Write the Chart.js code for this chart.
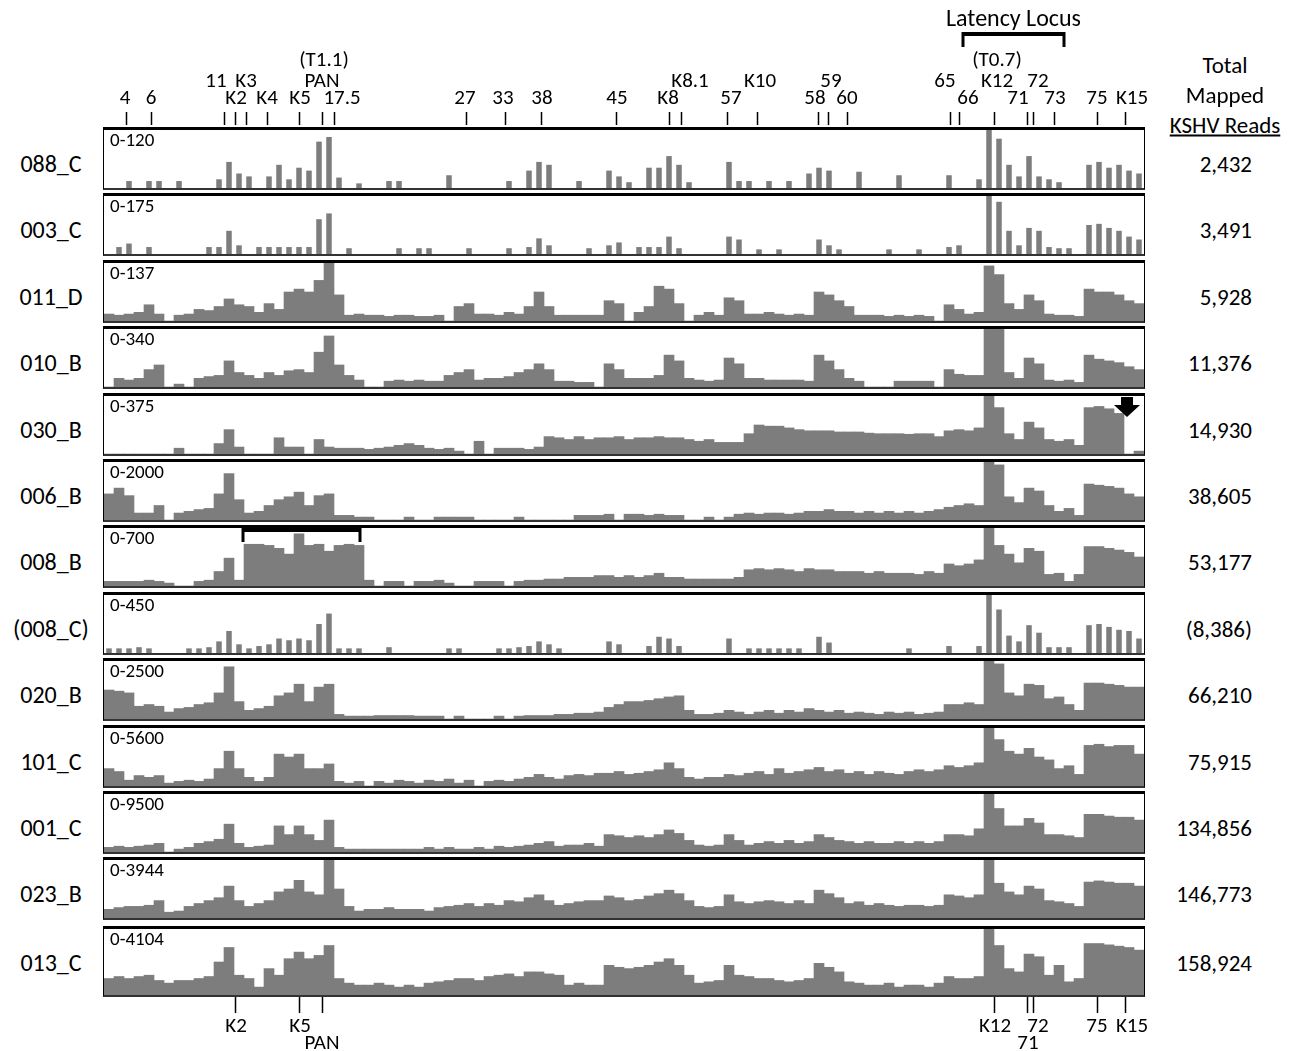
<!DOCTYPE html>
<html>
<head>
<meta charset="utf-8">
<script src="https://cdn.jsdelivr.net/npm/chart.js"></script>
<style>
  body { margin: 0; background: #fff; font-family: Carlito, Lato, "Liberation Sans", sans-serif; color: #000; }
  #page { position: relative; width: 1303px; height: 1051px; overflow: hidden; }
  .abs { position: absolute; white-space: nowrap; line-height: 1; }
  .mid { transform: translate(-50%, -50%); }
  .right { transform: translate(-100%, -50%); }
  .track { position: absolute; left: 103px; width: 1042px; box-sizing: border-box;
           border-top: 3px solid #000; border-left: 1px solid #000; border-right: 1px solid #000;
           border-bottom: 2px solid #333; }
  .track canvas { display: block; }
  canvas.band { position: absolute; left: 104px; }
</style>
</head>
<body>
<div id="page"></div>
<script>
// ---- data ----
const binCount = 104;   // genome split in 104 equal bins, coverage in % of the track range

const samples = ['088_C', '003_C', '011_D', '010_B', '030_B', '006_B', '008_B',
                 '(008_C)', '020_B', '101_C', '001_C', '023_B', '013_C'];
const ranges = ['0-120', '0-175', '0-137', '0-340', '0-375', '0-2000', '0-700',
                '0-450', '0-2500', '0-5600', '0-9500', '0-3944', '0-4104'];
const totals = ['2,432', '3,491', '5,928', '11,376', '14,930', '38,605', '53,177',
                '(8,386)', '66,210', '75,915', '134,856', '146,773', '158,924'];
// low-coverage samples show as isolated read stacks
const sparse = ['088_C', '003_C', '(008_C)'];

const t088C = [0,0,12,0,12,12,0,12,0,0, 0,15,45,25,20,0,20,40,15,35, 30,80,88,18,0,8,0,0,12,12,
  0,0,0,0,22,0,0,0,0,0, 12,0,30,45,40,0,0,12,0,0, 30,20,10,0,35,35,55,40,10,0,
  0,0,45,12,12,0,12,0,12,0, 25,35,30,0,0,28,0,0,0,22, 0,0,0,0,22,0,0,15,100,85,
  40,20,55,20,15,10,0,0,40,45, 35,40,30,25];
const t003C = [0,12,18,0,12,0,0,0,0,0, 12,12,40,15,0,12,12,12,12,12, 12,60,70,0,10,0,0,0,0,10,
  0,10,10,0,0,0,10,0,0,0, 10,0,12,27,15,0,0,0,10,0, 15,20,0,12,12,12,30,10,0,0,
  0,0,30,25,0,8,0,8,0,0, 0,25,15,8,0,0,0,0,8,0, 0,8,0,0,12,15,0,0,100,90,
  40,15,45,40,12,10,10,0,50,52, 45,40,30,25];
const t011D = [12,10,12,15,28,12,0,10,12,20, 18,25,38,28,25,15,30,20,50,55, 50,70,100,45,10,12,10,10,8,10,
  10,8,8,10,0,25,30,12,12,10, 15,12,25,50,25,10,10,10,10,10, 35,30,0,15,25,60,55,30,0,10,
  15,10,40,35,12,12,15,12,10,12, 10,50,45,35,25,10,10,10,8,10, 8,10,8,0,28,20,12,15,95,80,
  30,20,45,35,12,10,10,8,55,50, 50,45,35,30];
const t010B = [0,15,12,15,30,38,0,5,0,15, 18,20,45,25,20,15,25,20,28,30, 25,60,88,38,20,12,0,0,10,12,
  10,12,10,10,20,25,30,12,15,15, 18,25,30,40,30,10,10,8,8,0, 40,30,15,15,15,20,55,45,15,12,
  10,12,50,40,15,15,12,12,12,12, 10,55,45,30,15,10,0,0,0,10, 10,10,10,0,30,22,20,20,100,100,
  25,15,50,40,12,10,12,8,55,48, 45,42,35,30];
const t030B = [0,0,0,0,0,0,0,10,0,0, 0,18,42,12,0,0,0,28,12,12, 0,25,12,10,10,10,8,10,12,15,
  18,15,10,8,10,5,0,22,0,10, 10,10,8,12,30,28,25,30,25,28, 28,30,25,28,28,30,28,28,25,22,
  25,20,20,20,35,50,48,48,45,42, 40,40,40,38,38,38,36,35,35,35, 34,35,35,30,40,42,40,45,100,80,
  35,25,55,45,25,22,25,15,80,82, 78,70,0,5];
const t006B = [45,55,42,12,12,25,0,12,15,18, 20,45,80,35,12,15,25,35,40,48, 25,42,45,8,8,5,5,0,0,0,
  5,0,0,5,5,5,5,0,0,0, 0,5,0,0,0,0,0,8,8,8, 10,0,10,10,8,10,8,8,0,0,
  5,0,5,10,12,10,12,12,10,12, 15,15,18,15,15,12,15,12,15,12, 15,12,15,18,22,25,28,25,100,95,
  40,30,55,50,25,15,20,8,62,60, 58,55,45,40];
const t008B = [8,8,8,8,10,8,5,0,0,8, 10,25,48,10,72,72,70,65,55,90, 70,72,60,70,72,70,10,0,8,8,
  0,8,8,10,5,0,0,8,8,8, 0,8,10,10,12,12,15,15,15,18, 18,15,18,15,18,22,15,15,12,12,
  12,12,12,15,28,30,28,30,28,25, 30,28,28,25,25,25,22,25,22,22, 22,20,25,22,38,35,38,45,100,70,
  55,40,65,60,20,22,8,20,68,68, 65,62,58,50];
const t008C = [8,8,8,10,8,0,0,0,8,8, 10,20,38,15,8,12,15,25,22,25, 22,50,68,8,8,8,0,0,10,0,
  0,0,0,0,8,8,0,0,0,8, 8,10,12,20,15,8,0,0,0,0, 20,15,0,0,12,28,25,12,0,0,
  0,0,25,0,8,8,8,8,8,8, 0,28,18,0,0,0,0,0,0,0, 8,0,0,0,12,0,0,12,100,75,
  30,20,48,35,10,10,10,0,48,50, 45,40,38,25];
const t020B = [50,48,45,22,25,22,12,18,20,25, 28,45,90,30,15,18,22,40,45,60, 30,55,60,8,5,5,5,6,6,6,
  6,5,5,5,0,5,0,0,0,5, 0,5,6,6,6,8,8,10,10,12, 20,25,30,30,32,35,38,40,15,8,
  8,10,15,12,8,12,15,10,15,12, 18,15,12,15,10,12,10,8,12,10, 12,8,10,12,25,25,28,25,100,95,
  45,40,60,58,35,38,25,15,62,62, 60,58,55,55];
const t101C = [30,25,10,18,15,18,5,8,10,8, 12,30,60,30,15,8,15,55,50,55, 30,30,38,8,5,8,0,8,5,10,
  8,5,10,8,12,5,10,0,8,10, 8,12,15,20,15,12,18,20,18,22, 22,25,20,22,25,28,40,30,15,12,
  15,15,20,18,22,25,20,30,22,25, 28,32,25,28,22,25,20,25,22,20, 25,28,25,28,35,32,35,40,100,80,
  60,55,65,50,45,30,35,20,70,72, 68,70,70,55];
const t001C = [8,10,8,10,12,15,0,5,8,15, 18,22,48,15,8,10,12,45,30,45, 30,20,55,8,5,5,5,5,5,5,
  5,5,8,5,8,5,5,8,5,10, 8,10,12,15,18,10,12,12,15,10, 30,28,25,28,25,30,38,32,20,12,
  10,12,30,20,12,15,18,15,20,15, 18,30,25,20,18,15,18,15,15,18, 15,18,15,18,30,30,28,40,100,75,
  45,45,58,50,30,30,28,25,65,65, 62,60,60,55];
const t023B = [15,18,20,20,22,30,10,12,20,25, 30,35,55,30,20,25,30,45,50,65, 45,40,100,50,20,12,15,15,18,15,
  15,15,12,18,20,22,25,20,25,22, 30,28,35,40,30,22,25,28,30,30, 38,35,30,32,38,42,48,42,30,20,
  18,20,40,28,25,28,30,28,25,30, 25,48,42,35,25,28,22,25,22,20, 22,22,20,22,40,38,35,40,100,60,
  45,40,55,50,30,28,25,20,62,64, 62,60,60,55];
const t013C = [25,28,25,28,30,22,18,22,22,25, 28,50,72,30,25,12,40,30,55,65, 55,60,75,25,18,15,15,18,15,12,
  15,12,18,20,22,25,25,22,28,30, 32,28,35,35,32,30,15,18,15,15, 45,42,40,42,45,50,55,45,30,18,
  20,22,45,30,28,25,25,22,20,22, 25,48,42,35,20,18,15,15,18,12, 15,15,12,18,28,25,25,28,100,75,
  40,35,62,58,30,45,20,25,78,78, 76,74,72,68];

const coverage = [t088C, t003C, t011D, t010B, t030B, t006B, t008B,
                  t008C, t020B, t101C, t001C, t023B, t013C];

// genes, position in bin units along the genome
const geneNames = ['4','6','11','K2','K3','K4','K5','PAN','17.5','27','33','38','45','K8','K8.1',
                   '57','K10','58','59','60','65','66','K12','71','72','73','75','K15'];
const genePos   = [2.2,4.7,12.0,13.1,14.2,16.3,19.5,21.8,23.0,36.2,40.1,43.7,51.2,56.5,57.7,
                   62.3,65.3,71.4,72.4,74.3,84.6,85.5,89.0,92.3,92.9,95.0,99.3,102.1];
// label placement: [text, position, row]
const topLabels = [['4',2.1,0],['6',4.7,0],['K2',13.2,0],['K4',16.3,0],['K5',19.6,0],['17.5',23.8,0],
  ['27',36.1,0],['33',39.9,0],['38',43.8,0],['45',51.3,0],['K8',56.4,0],['57',62.7,0],['58',71.1,0],
  ['60',74.3,0],['66',86.4,0],['71',91.4,0],['73',95.1,0],['75',99.3,0],['K15',102.8,0],
  ['11',11.2,1],['K3',14.2,1],['PAN',21.8,1],['K8.1',58.6,1],['K10',65.6,1],['59',72.7,1],
  ['65',84.1,1],['K12',89.3,1],['72',93.4,1],['(T1.1)',22.0,2],['(T0.7)',89.3,2]];
const bottomGenes = ['K2','K5','PAN','K12','71','72','75','K15'];
const bottomLabels = [['K2',13.2,0],['K5',19.6,0],['K12',89.1,0],['72',93.4,0],['75',99.3,0],
  ['K15',102.8,0],['PAN',21.8,1],['71',92.4,1]];
const latency = { from: 85.9, to: 96.0, label: 'Latency Locus' };
const bracket008B = { track: 6, from: 13.9, to: 25.6 };
const arrow030B = { track: 4, at: 102.3 };

// ---- layout ----
const page = document.getElementById('page');
const trackTops = coverage.map((v, i) => i < 12 ? 127 + 66.4 * i : 926);
const trackHeights = coverage.map((v, i) => i < 12 ? 63 : 71);

function addText(txt, x, y, size, align) {
    const d = document.createElement('div');
    d.className = 'abs ' + (align || '');
    d.textContent = txt;
    d.style.left = x + 'px';
    d.style.top = y + 'px';
    d.style.fontSize = size + 'px';
    page.appendChild(d);
    return d;
}

const baseOpts = {
    responsive: false,
    animation: false,
    events: [],
    layout: { padding: 0 },
    plugins: { legend: { display: false }, tooltip: { enabled: false } },
};

// track marks: bracket on 008_B, arrow on 030_B
const trackMarks = {
    id: 'trackMarks',
    afterDatasetsDraw(chart) {
        const idx = chart.options.trackIndex;
        const s = chart.scales.x;
        const px = v => s.left + v * s.width / binCount;
        const ctx = chart.ctx;
        ctx.save();
        ctx.strokeStyle = '#000';
        ctx.fillStyle = '#000';
        if (idx === bracket008B.track) {
            const a = px(bracket008B.from), b = px(bracket008B.to);
            ctx.lineWidth = 4;
            ctx.beginPath(); ctx.moveTo(a, 2); ctx.lineTo(b, 2); ctx.stroke();
            ctx.lineWidth = 3;
            ctx.beginPath(); ctx.moveTo(a, 0); ctx.lineTo(a, 14); ctx.moveTo(b, 0); ctx.lineTo(b, 14); ctx.stroke();
        }
        if (idx === arrow030B.track) {
            const c = px(arrow030B.at);
            ctx.fillRect(c - 6, 1, 12, 8);
            ctx.beginPath(); ctx.moveTo(c - 13, 9); ctx.lineTo(c + 13, 9); ctx.lineTo(c, 21); ctx.closePath(); ctx.fill();
        }
        ctx.restore();
    }
};

const binLabels = coverage[0].map((v, i) => i);

coverage.forEach((vals, i) => {
    const box = document.createElement('div');
    box.className = 'track';
    box.style.top = trackTops[i] + 'px';
    box.style.height = trackHeights[i] + 'px';
    const cv = document.createElement('canvas');
    cv.width = 1040;
    cv.height = trackHeights[i] - 5;
    box.appendChild(cv);
    page.appendChild(box);

    new Chart(cv, {
        type: 'bar',
        data: {
            labels: binLabels,
            datasets: [{
                data: vals,
                backgroundColor: 'rgb(125, 125, 125)',
                borderWidth: 0,
                barPercentage: sparse.includes(samples[i]) ? 0.55 : 1,
                categoryPercentage: 1
            }]
        },
        options: Object.assign({}, baseOpts, {
            trackIndex: i,
            scales: { x: { display: false }, y: { display: false, min: 0, max: 100 } }
        }),
        plugins: [trackMarks]
    });

    const mid = trackTops[i] + 37;
    addText(samples[i], 51, mid, 24, 'mid');
    addText(totals[i], 1252, mid, 23, 'right');
    addText(ranges[i], 110, trackTops[i] + 3, 19);
});

// gene ticks above and below the tracks, drawn on a genome scale
const geneTicks = {
    id: 'geneTicks',
    afterDraw(chart) {
        const s = chart.scales.x;
        const o = chart.options.tickSpec;
        const ctx = chart.ctx;
        ctx.save();
        ctx.strokeStyle = '#000';
        ctx.lineWidth = 1.5;
        ctx.beginPath();
        o.names.forEach(n => {
            const x = Math.round(s.getPixelForValue(genePos[geneNames.indexOf(n)])) + 0.5;
            ctx.moveTo(x, o.y0); ctx.lineTo(x, o.y1);
        });
        ctx.stroke();
        if (o.locus) {
            const a = s.getPixelForValue(latency.from), b = s.getPixelForValue(latency.to);
            ctx.lineWidth = 4;
            ctx.beginPath(); ctx.moveTo(a, 34); ctx.lineTo(b, 34); ctx.stroke();
            ctx.lineWidth = 3;
            ctx.beginPath(); ctx.moveTo(a, 32); ctx.lineTo(a, 47); ctx.moveTo(b, 32); ctx.lineTo(b, 47); ctx.stroke();
        }
        ctx.restore();
    }
};

function geneBand(top, height, spec) {
    const cv = document.createElement('canvas');
    cv.className = 'band';
    cv.style.top = top + 'px';
    cv.width = 1040;
    cv.height = height;
    page.appendChild(cv);
    return new Chart(cv, {
        type: 'scatter',
        data: { datasets: [{ data: genePos.map(p => ({ x: p, y: 0 })), pointRadius: 0 }] },
        options: Object.assign({}, baseOpts, {
            tickSpec: spec,
            scales: { x: { type: 'linear', display: false, min: 0, max: binCount },
                      y: { display: false, min: -1, max: 1 } }
        }),
        plugins: [geneTicks]
    });
}

const header = geneBand(0, 127, { names: geneNames, y0: 112, y1: 125, locus: true });
const footer = geneBand(997, 54, { names: bottomGenes, y0: 0, y1: 16, locus: false });

const topRows = [97, 80, 59];
topLabels.forEach(([t, p, r]) => addText(t, 104 + header.scales.x.getPixelForValue(p), topRows[r], 21, 'mid'));
addText(latency.label, 104 + header.scales.x.getPixelForValue((latency.from + latency.to) / 2), 18, 24, 'mid');

const bottomRows = [1025, 1042];
bottomLabels.forEach(([t, p, r]) => addText(t, 104 + footer.scales.x.getPixelForValue(p), bottomRows[r], 21, 'mid'));

addText('Total', 1225, 65, 23, 'mid');
addText('Mapped', 1225, 95, 23, 'mid');
addText('KSHV Reads', 1225, 125, 23, 'mid').style.textDecoration = 'underline';
</script>
</body>
</html>
